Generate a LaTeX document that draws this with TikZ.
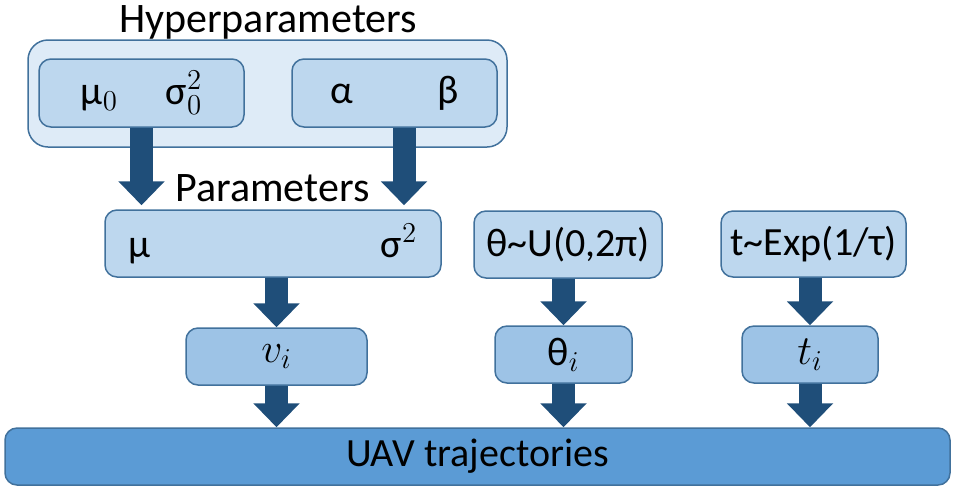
\documentclass[tikz,border=0pt]{standalone}
\usepackage{fontspec}
\setmainfont{Carlito}
\usetikzlibrary{arrows.meta,positioning}
\definecolor{hyperfill}{HTML}{DEEBF7}
\definecolor{boxfill}{HTML}{BDD7EE}
\definecolor{varfill}{HTML}{9DC3E6}
\definecolor{outfill}{HTML}{5B9BD5}
\definecolor{boxline}{HTML}{41719C}
\definecolor{arrowfill}{HTML}{1F4E79}
\begin{document}
\begin{tikzpicture}[x=0.5pt, y=-0.5pt, font=\fontsize{20}{24}\selectfont, every node/.style={align=center, inner sep=0pt}, title/.style={anchor=base, font=\fontsize{21}{25}\selectfont}, group/.style={draw=boxline, line width=0.75pt, rounded corners=10pt, fill=hyperfill}, box/.style={draw=boxline, line width=0.75pt, rounded corners=6pt, fill=boxfill}, var/.style={box, fill=varfill}, trajbox/.style={box, fill=outfill}, arrow/.style={-{Triangle[width=22.5pt, length=12pt]}, line width=11.5pt, draw=arrowfill}]
\useasboundingbox (0,0) rectangle (957,494);
\node[group, minimum width=239.5pt, minimum height=53.5pt] (hyper) at (267.5,93.5) {};
\node[title] (hyperlabel) at (268,32) {Hyperparameters};
\node[box, minimum width=102.5pt, minimum height=34pt] (prior) at (141.5,93) {μ$_0$\hspace{24pt}σ$^2_0$};
\node[box, minimum width=102.5pt, minimum height=34pt] (shape) at (394.5,93) {α\hspace{42pt}β};
\node[title] (paramlabel) at (272.5,201) {Parameters};
\node[box, minimum width=168pt, minimum height=33.5pt] (param) at (273,243.5) {μ\hspace{115pt}σ$^2$};
\node[box, minimum width=94pt, minimum height=33.5pt] (angle) at (568,244.5) {θ\textasciitilde U(0,2π)};
\node[box, minimum width=92.5pt, minimum height=33pt] (time) at (813.5,244) {t\textasciitilde Exp(1/τ)};
\node[var, minimum width=90.5pt, minimum height=28.5pt] (speed) at (276.5,356.5) {$v_i$};
\node[var, minimum width=68.5pt, minimum height=28.5pt] (anglei) at (563.5,354.5) {θ$_i$};
\node[var, minimum width=68pt, minimum height=28.5pt] (timei) at (810,354.5) {$t_i$};
\node[trajbox, minimum width=472.5pt, minimum height=28.5pt] (traj) at (477.5,456.5) {UAV trajectories};
\draw[arrow, shorten >=2pt] (prior.south) -- (prior.south |- param.north);
\draw[arrow, shorten >=2pt] ([xshift=4.75pt]shape.south) -- ([xshift=4.75pt]shape.south |- param.north);
\draw[arrow] (speed.north |- param.south) -- (speed.north);
\draw[arrow] (anglei.north |- angle.south) -- (anglei.north);
\draw[arrow] (timei.north |- time.south) -- (timei.north);
\draw[arrow] (speed.south) -- (speed.south |- traj.north);
\draw[arrow] (anglei.south) -- (anglei.south |- traj.north);
\draw[arrow] (timei.south) -- (timei.south |- traj.north);
\end{tikzpicture}
\end{document}
